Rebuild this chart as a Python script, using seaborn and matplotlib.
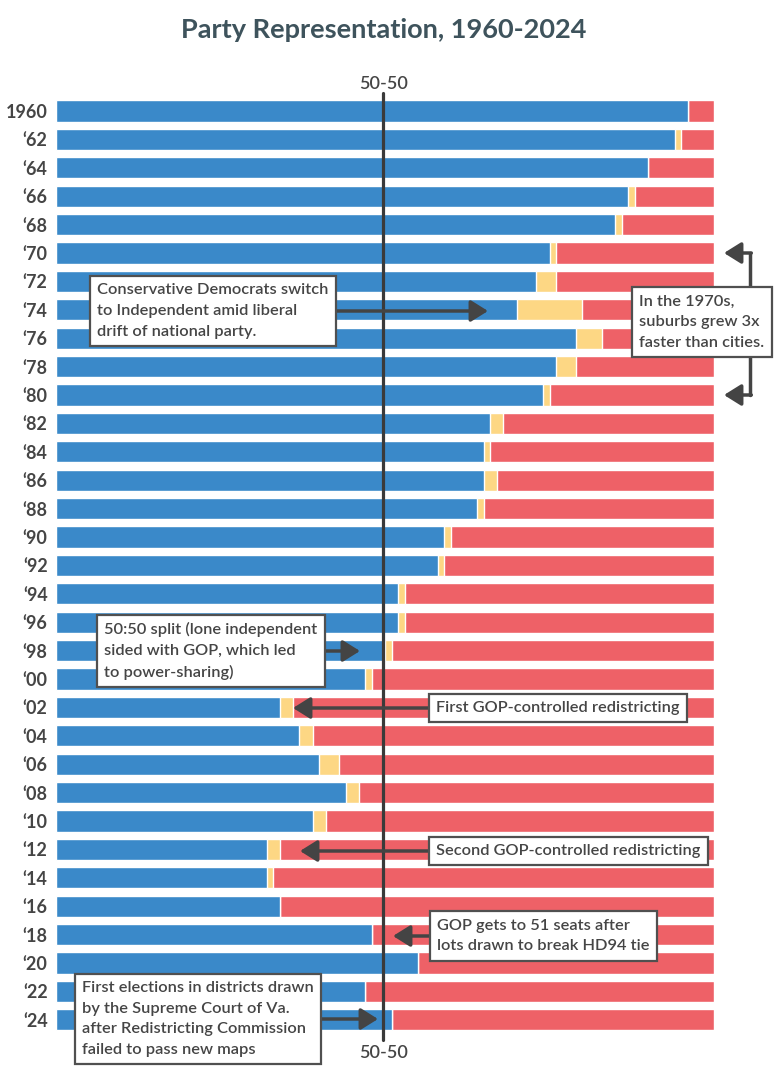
import matplotlib
matplotlib.use("Agg")
import matplotlib.pyplot as plt
import seaborn as sns
import pandas as pd

# Data: Virginia House of Delegates seats by party
years = ['1960', '\u201862', '\u201864', '\u201866', '\u201868', '\u201870', '\u201872', '\u201874',
         '\u201876', '\u201878', '\u201880', '\u201882', '\u201884', '\u201886', '\u201888', '\u201890',
         '\u201892', '\u201894', '\u201896', '\u201898', '\u201800', '\u201802', '\u201804', '\u201806',
         '\u201808', '\u201810', '\u201812', '\u201814', '\u201816', '\u201818', '\u201820', '\u201822',
         '\u201824']
dem = [96, 94, 90, 87, 85, 75, 73, 70, 79, 76, 74, 66, 65, 65, 64, 59, 58,
       52, 52, 50, 47, 34, 37, 40, 44, 39, 32, 32, 34, 48, 55, 47, 51]
ind = [0, 1, 0, 1, 1, 1, 3, 10, 4, 3, 1, 2, 1, 2, 1, 1, 1,
       1, 1, 1, 1, 2, 2, 3, 2, 2, 2, 1, 0, 0, 0, 0, 0]
rep = [4, 5, 10, 12, 14, 24, 24, 20, 17, 21, 25, 32, 34, 33, 35, 40, 41,
       47, 47, 49, 52, 64, 61, 57, 54, 59, 66, 67, 66, 52, 45, 53, 49]

df = pd.DataFrame({'year': years, 'dem': dem, 'ind': ind, 'rep': rep})
df['dem_ind'] = df['dem'] + df['ind']
df['total'] = df['dem_ind'] + df['rep']

BLUE = '#3a89c9'
YELLOW = '#fdd784'
RED = '#ee6167'
TEXT = '#454545'

sns.set_style('white')
plt.rcParams['font.family'] = ['Lato', 'DejaVu Sans']

W, H = 782, 1083
fig = plt.figure(figsize=(W / 100, H / 100), dpi=100)
ax = fig.add_axes([56 / W, 1 - 1075 / H, 658 / W, (1075 - 60) / H])


# pixel helpers for placing annotations
def px_x(p):
    return (p - 56) / 6.58


def px_y(p):
    return (p - 111) / 28.4


bw = 0.74
sns.barplot(data=df, x='total', y='year', color=RED, saturation=1, width=bw,
            errorbar=None, orient='h', ax=ax)
sns.barplot(data=df, x='dem_ind', y='year', color=YELLOW, saturation=1, width=bw,
            errorbar=None, orient='h', ax=ax)
sns.barplot(data=df, x='dem', y='year', color=BLUE, saturation=1, width=bw,
            errorbar=None, orient='h', ax=ax)

ax.set_xlim(0, 100)
ax.set_ylim(px_y(1075), px_y(60))
ax.set_xlabel('')
ax.set_ylabel('')
ax.set_xticks([])
ax.tick_params(axis='y', length=0, pad=6)
for lbl in ax.get_yticklabels():
    lbl.set_fontsize(13)
    lbl.set_fontweight('bold')
    lbl.set_color(TEXT)
sns.despine(ax=ax, left=True, bottom=True)

# 50-50 line
ax.plot([49.75, 49.75], [px_y(93), px_y(1040)], color='#3a3a3a', lw=2.3,
        clip_on=False, zorder=5)
ax.text(49.75, px_y(84), '50-50', ha='center', va='center', fontsize=13,
        fontweight='semibold', color=TEXT, clip_on=False)
ax.text(49.75, px_y(1053), '50-50', ha='center', va='center', fontsize=13,
        fontweight='semibold', color=TEXT, clip_on=False)

fig.text(384 / W, 1 - 30 / H, 'Party Representation, 1960-2024', ha='center',
         va='center', fontsize=19.5, fontweight='bold', color='#3e535c')

box = dict(boxstyle='square,pad=0.45', fc='white', ec='#505050', lw=1.6)
afs = 11.8
aw = 'semibold'


def note(text, tip_x, y_px, text_left_px, right_side=True):
    ax.annotate(text, xy=(tip_x, px_y(y_px)), xytext=(px_x(text_left_px), px_y(y_px)),
                ha='left', va='center', fontsize=afs, fontweight=aw, color=TEXT,
                linespacing=1.6, bbox=box, zorder=8, annotation_clip=False,
                arrowprops=dict(arrowstyle='-|>,head_length=0.8,head_width=0.5',
                                color='#444444', lw=2.5, mutation_scale=13,
                                shrinkA=0, shrinkB=0,
                                relpos=(1, 0.5) if right_side else (0, 0.5)))


note('Conservative Democrats switch\nto Independent amid liberal\ndrift of national party.',
     px_x(488), 311, 97)
note('50:50 split (lone independent\nsided with GOP, which led\nto power-sharing)',
     px_x(360), 651, 104)
note('First GOP-controlled redistricting', px_x(293), 708, 436, right_side=False)
note('Second GOP-controlled redistricting', px_x(300), 851, 436, right_side=False)
note('GOP gets to 51 seats after\nlots drawn to break HD94 tie', px_x(393), 936, 437,
     right_side=False)
note('First elections in districts drawn\nby the Supreme Court of Va.\nafter Redistricting Commission\nfailed to pass new maps',
     px_x(378), 1019, 82)

# 1970s bracket
xb, xt = px_x(750), px_x(724)
ax.plot([xb, xb], [5, 10], color='#444444', lw=2.5, clip_on=False, zorder=6)
for yy in (5, 10):
    ax.annotate('', xy=(xt, yy), xytext=(xb + 0.2, yy), annotation_clip=False,
                arrowprops=dict(arrowstyle='-|>,head_length=0.8,head_width=0.5',
                                color='#444444', lw=2.5, mutation_scale=13,
                                shrinkA=0, shrinkB=0), zorder=6)
ax.text(px_x(639), px_y(322), 'In the 1970s,\nsuburbs grew 3x\nfaster than cities.',
        ha='left', va='center', fontsize=afs, fontweight=aw, color=TEXT,
        linespacing=1.6, bbox=box, zorder=8, clip_on=False)

fig.savefig('out.png', dpi=100, facecolor='white')
